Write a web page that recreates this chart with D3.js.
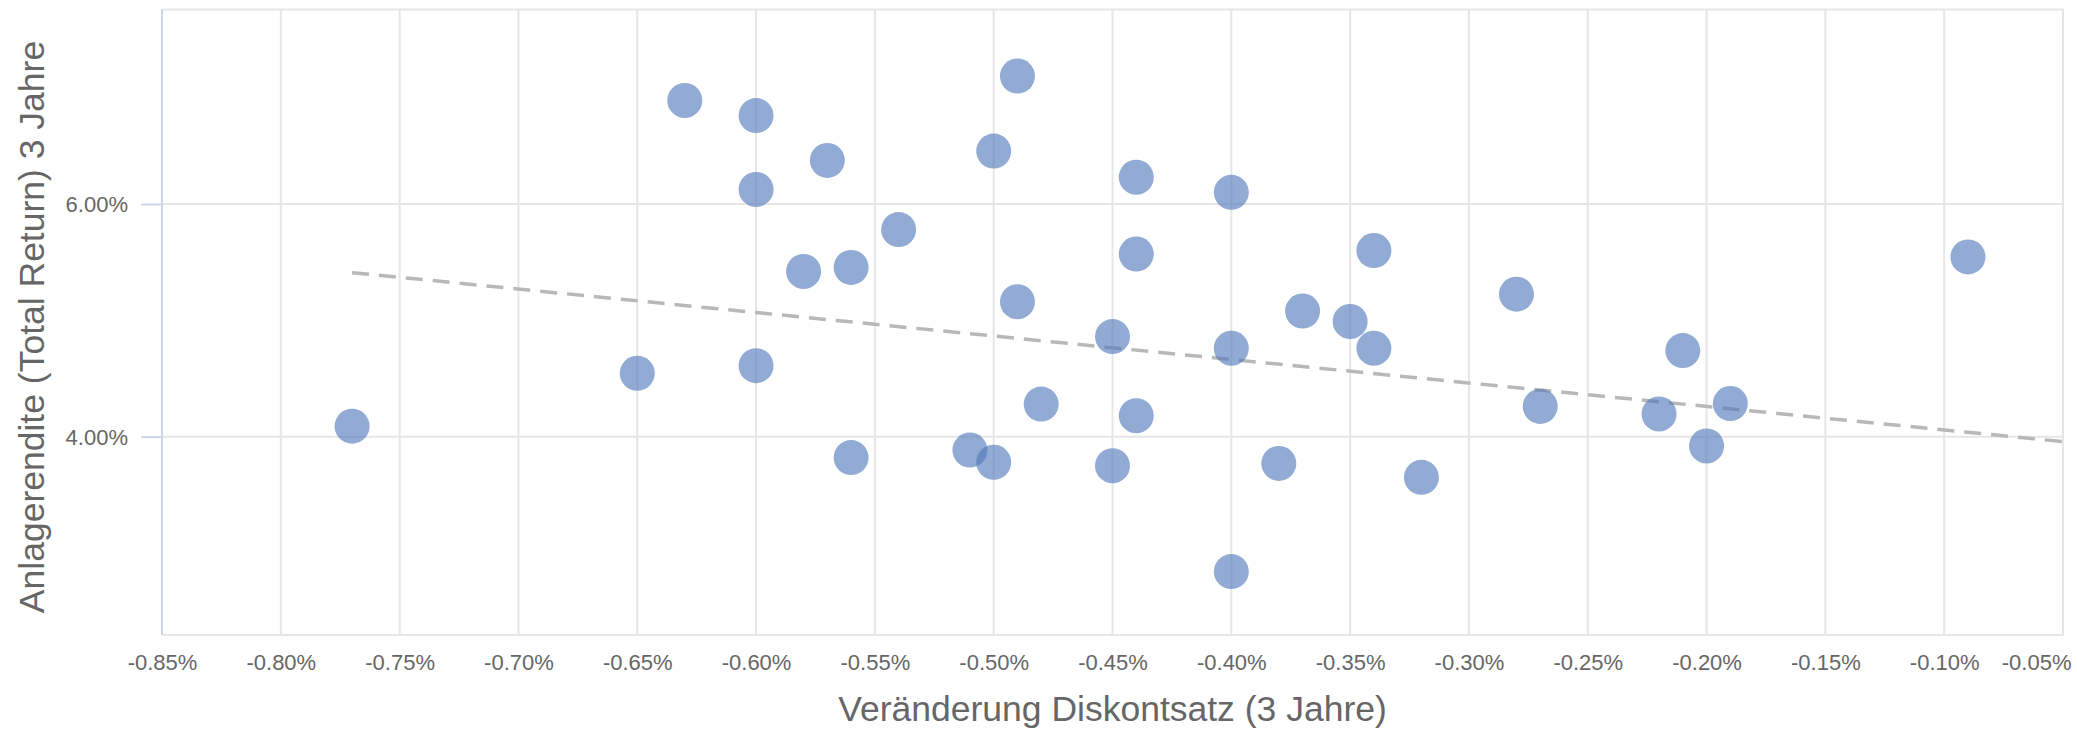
<!DOCTYPE html>
<html>
<head>
<meta charset="utf-8">
<script src="https://cdn.jsdelivr.net/npm/d3@7"></script>
<style>
  html, body { margin: 0; padding: 0; background: #ffffff; }
  svg { display: block; font-family: "Liberation Sans", Arial, sans-serif; }
</style>
</head>
<body>
<svg id="chart" width="2077" height="731"></svg>
<script>
// ---- Data ----
const discountChange = [
  -0.77, -0.65, -0.63, -0.60, -0.60, -0.60, -0.58, -0.57, -0.56, -0.56,
  -0.54, -0.51, -0.50, -0.50, -0.49, -0.49, -0.48, -0.45, -0.45, -0.44,
  -0.44, -0.44, -0.40, -0.40, -0.40, -0.38, -0.37, -0.35, -0.34, -0.34,
  -0.32, -0.28, -0.27, -0.22, -0.21, -0.20, -0.19, -0.09
];
const totalReturn = [
  4.09, 4.545, 6.89, 6.76, 6.125, 4.61, 5.42, 6.375, 5.455, 3.82,
  5.78, 3.885, 6.455, 3.78, 7.10, 5.16, 4.28, 4.86, 3.75, 6.23,
  5.57, 4.18, 6.10, 4.76, 2.84, 3.77, 5.08, 4.99, 5.60, 4.76,
  3.65, 5.225, 4.26, 4.195, 4.74, 3.92, 4.285, 5.545
];
const trendX = [-0.77, -0.05];
const trendY = [5.41, 3.957];
const xTicks = [-0.85, -0.80, -0.75, -0.70, -0.65, -0.60, -0.55, -0.50, -0.45,
                -0.40, -0.35, -0.30, -0.25, -0.20, -0.15, -0.10, -0.05];
const yTicks = [4, 6];
const xTitle = "Veränderung Diskontsatz (3 Jahre)";
const yTitle = "Anlagerendite (Total Return) 3 Jahre";

// ---- Layout ----
const svg = d3.select("#chart");
const plot = { left: 162, right: 2063, top: 9.5, bottom: 635 };

const x = d3.scaleLinear().domain([-0.85, -0.05]).range([plot.left, plot.right]);
const y = d3.scaleLinear().domain([2.295, 7.672]).range([plot.bottom, plot.top]);

const gridColor = "#e6e6e6";
const axisColor = "#ccd6eb";
const textColor = "#666666";
const pct = d => d.toFixed(2) + "%";

// Vertical grid lines
svg.append("g").selectAll("line").data(xTicks).join("line")
  .attr("x1", d => x(d)).attr("x2", d => x(d))
  .attr("y1", plot.top).attr("y2", plot.bottom)
  .attr("stroke", gridColor).attr("stroke-width", 2);

// Horizontal grid lines
svg.append("g").selectAll("line").data(yTicks).join("line")
  .attr("x1", plot.left).attr("x2", plot.right)
  .attr("y1", d => y(d)).attr("y2", d => y(d))
  .attr("stroke", gridColor).attr("stroke-width", 2);

// Top and bottom border lines
svg.append("line")
  .attr("x1", plot.left).attr("x2", plot.right + 1)
  .attr("y1", plot.top).attr("y2", plot.top)
  .attr("stroke", gridColor).attr("stroke-width", 2);
svg.append("line")
  .attr("x1", plot.left).attr("x2", plot.right + 1)
  .attr("y1", plot.bottom).attr("y2", plot.bottom)
  .attr("stroke", gridColor).attr("stroke-width", 2);

// X axis (labels only)
const xAxis = d3.axisBottom(x).tickValues(xTicks)
  .tickFormat(pct)
  .tickSize(0).tickPadding(0);
const gx = svg.append("g").attr("transform", `translate(0,${plot.bottom})`).call(xAxis);
gx.select(".domain").remove();
gx.selectAll("text")
  .attr("y", 35).attr("dy", 0)
  .attr("fill", textColor)
  .style("font-size", "22px")
  .style("font-family", "'Liberation Sans', Arial, sans-serif");
// keep the last label inside the picture (right-aligned at the edge)
gx.selectAll(".tick").filter(d => d === xTicks[xTicks.length - 1]).select("text")
  .attr("text-anchor", "end")
  .attr("x", 2071 - x(xTicks[xTicks.length - 1]));

// Y axis
const yAxis = d3.axisLeft(y).tickValues(yTicks)
  .tickFormat(pct)
  .tickSize(21).tickPadding(13);
const gy = svg.append("g").attr("transform", `translate(${plot.left},0)`).call(yAxis);
gy.select(".domain").remove();
gy.selectAll(".tick line").attr("stroke", axisColor).attr("stroke-width", 2);
gy.selectAll("text")
  .attr("fill", textColor)
  .attr("dy", "0.35em")
  .style("font-size", "22px")
  .style("font-family", "'Liberation Sans', Arial, sans-serif");
svg.append("line")
  .attr("x1", plot.left).attr("x2", plot.left)
  .attr("y1", plot.top).attr("y2", plot.bottom)
  .attr("stroke", axisColor).attr("stroke-width", 2);

// Trend line (dashed)
const trend = trendX.map((v, i) => [v, trendY[i]]);
svg.append("path")
  .datum(trend)
  .attr("d", d3.line().x(d => x(d[0])).y(d => y(d[1])))
  .attr("fill", "none")
  .attr("stroke", "#b8b8b8")
  .attr("stroke-width", 3.5)
  .attr("stroke-dasharray", "17,10");

// Points
const pts = discountChange.map((v, i) => ({ x: v, y: totalReturn[i] }));
svg.append("g").selectAll("circle").data(pts).join("circle")
  .attr("cx", d => x(d.x)).attr("cy", d => y(d.y))
  .attr("r", 17.5)
  .attr("fill", "#4f77b9")
  .attr("fill-opacity", 0.62);

// Axis titles
svg.append("text")
  .attr("x", (plot.left + plot.right) / 2).attr("y", 721)
  .attr("text-anchor", "middle")
  .attr("fill", textColor)
  .style("font-size", "35.5px")
  .text(xTitle);

svg.append("text")
  .attr("transform", `translate(44,327) rotate(-90)`)
  .attr("text-anchor", "middle")
  .attr("fill", textColor)
  .style("font-size", "35.5px")
  .text(yTitle);
</script>
</body>
</html>
